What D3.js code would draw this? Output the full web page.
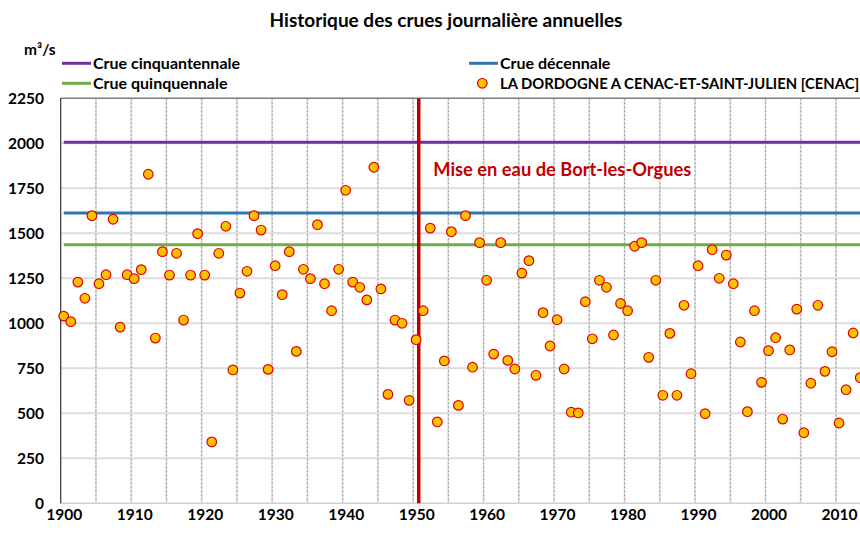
<!DOCTYPE html>
<html>
<head>
<meta charset="utf-8">
<script src="https://cdn.jsdelivr.net/npm/d3@7"></script>
<style>
  body { margin: 0; background: #fff; }
  svg { display: block; font-family: Lato, Calibri, sans-serif; }
</style>
</head>
<body>
<div id="chart"></div>
<script>
// annual daily flood peaks, 1900..2013
const years = d3.range(1900, 2014);
const flows = [
  1040, 1009, 1229, 1139, 1598, 1220, 1270, 1578, 979, 1270,
  1248, 1298, 1828, 918, 1398, 1268, 1389, 1018, 1268, 1498,
  1268, 341, 1389, 1539, 741, 1168, 1289, 1598, 1518, 744,
  1320, 1159, 1398, 844, 1300, 1248, 1548, 1220, 1070, 1300,
  1739, 1229, 1200, 1130, 1867, 1191, 605, 1018, 1000, 572,
  909, 1070, 1529, 452, 791, 1509, 544, 1598, 756, 1448,
  1239, 829, 1448, 794, 746, 1279, 1348, 711, 1059, 874,
  1020, 746, 506, 502, 1120, 914, 1239, 1200, 935, 1110,
  1070, 1428, 1448, 811, 1239, 600, 944, 600, 1100, 720,
  1320, 498, 1409, 1250, 1379, 1220, 896, 509, 1070, 672,
  848, 920, 468, 852, 1079, 392, 667, 1100, 733, 842,
  446, 631, 946, 698
];
const refNames  = ['Crue cinquantennale', 'Crue décennale', 'Crue quinquennale'];
const refValues = [2006, 1613, 1437];
const refColors = ['#7030a0', '#2e75b6', '#70ad47'];
const yTicks = [0, 250, 500, 750, 1000, 1250, 1500, 1750, 2000, 2250];
const xLabelYears = d3.range(1900, 2011, 10);
const xGridYears = d3.range(1905, 2015, 5);
const damYear = 1950.8;
const damLabel = 'Mise en eau de Bort-les-Orgues';
const seriesName = 'LA DORDOGNE A CENAC-ET-SAINT-JULIEN [CENAC]';

const W = 860, H = 533;
const off = 0.43;   // points sit a little after the year line
const x = d3.scaleLinear().domain([1900, 2014]).range([60.7, 864.2]);
const y = d3.scaleLinear().domain([0, 2250]).range([503.3, 98.3]);

const svg = d3.select('#chart').append('svg')
  .attr('width', W).attr('height', H);

// title
svg.append('text').attr('x', 446).attr('y', 27).attr('text-anchor', 'middle')
  .attr('font-size', 19).attr('font-weight', 700).attr('fill', '#000')
  .text('Historique des crues journalière annuelles');

svg.append('text').attr('x', 24).attr('y', 55).attr('font-size', 15.5)
  .attr('font-weight', 700).text('m³/s');

// legend
const leg = [
  { x: 62, y: 63.3, name: refNames[0], color: refColors[0] },
  { x: 62, y: 83.3, name: refNames[2], color: refColors[2] },
  { x: 469, y: 63.3, name: refNames[1], color: refColors[1] }
];
leg.forEach(l => {
  svg.append('line').attr('x1', l.x).attr('x2', l.x + 29).attr('y1', l.y).attr('y2', l.y)
    .attr('stroke', l.color).attr('stroke-width', 3);
  svg.append('text').attr('x', l.x + 31).attr('y', l.y + 5.5).attr('font-size', 16)
    .attr('font-weight', 700).text(l.name);
});
svg.append('circle').attr('cx', 482.3).attr('cy', 83.3).attr('r', 4.8)
  .attr('fill', '#ffc000').attr('stroke', '#e00000').attr('stroke-width', 1.2);
svg.append('text').attr('x', 500).attr('y', 88.8).attr('font-size', 14.8)
  .attr('font-weight', 700).text(seriesName);

// horizontal grid
svg.append('g').selectAll('line').data(yTicks.slice(1, -1)).join('line')
  .attr('x1', x(1900)).attr('x2', W).attr('y1', d => y(d)).attr('y2', d => y(d))
  .attr('stroke', '#dcdcdc').attr('stroke-width', 2);

// vertical grid (dashed)
const vg = svg.append('g');
vg.selectAll('line.halo').data(xGridYears).join('line').attr('class', 'halo')
  .attr('x1', d => x(d)).attr('x2', d => x(d)).attr('y1', y(2250)).attr('y2', y(0))
  .attr('stroke', '#e4e4e4').attr('stroke-width', 2);
vg.selectAll('line.dash').data(xGridYears).join('line').attr('class', 'dash')
  .attr('x1', d => x(d)).attr('x2', d => x(d)).attr('y1', y(2250)).attr('y2', y(0))
  .attr('stroke', '#9a9a9a').attr('stroke-width', 1).attr('stroke-dasharray', '2,2');

// plot frame
svg.append('line').attr('x1', x(1900)).attr('x2', W).attr('y1', y(2250)).attr('y2', y(2250))
  .attr('stroke', '#7f7f7f').attr('stroke-width', 1.5);
svg.append('line').attr('x1', x(1900)).attr('x2', W).attr('y1', y(0)).attr('y2', y(0))
  .attr('stroke', '#d0d0d0').attr('stroke-width', 1.5);
svg.append('line').attr('x1', x(1900)).attr('x2', x(1900)).attr('y1', y(2250)).attr('y2', y(0))
  .attr('stroke', '#333').attr('stroke-width', 1.2);

// reference flood lines
svg.append('g').selectAll('line').data(refValues).join('line')
  .attr('x1', x(1900 + off)).attr('x2', W)
  .attr('y1', d => y(d)).attr('y2', d => y(d))
  .attr('stroke', (d, i) => refColors[i]).attr('stroke-width', 3);

// dam commissioning
svg.append('line').attr('x1', x(damYear)).attr('x2', x(damYear))
  .attr('y1', y(2250)).attr('y2', y(0))
  .attr('stroke', '#c00000').attr('stroke-width', 3.5);
svg.append('text').attr('x', 433.3).attr('y', 175.5).attr('font-size', 18.3)
  .attr('font-weight', 700).attr('fill', '#c00000').text(damLabel);

// points
svg.append('g').selectAll('circle').data(years).join('circle')
  .attr('cx', d => x(d + off)).attr('cy', (d, i) => y(flows[i])).attr('r', 4.8)
  .attr('fill', '#ffc000').attr('stroke', '#e00000').attr('stroke-width', 1.2);

// axes
const yAxis = svg.append('g').attr('transform', 'translate(44,0)')
  .call(d3.axisLeft(y).tickValues(yTicks).tickFormat(d3.format('d')).tickSize(0).tickPadding(0));
yAxis.select('.domain').remove();
yAxis.selectAll('text').attr('font-size', 15.5).attr('font-weight', 700)
  .attr('fill', '#000').attr('font-family', 'Lato, sans-serif').attr('dy', '0.35em');

const xAxis = svg.append('g').attr('transform', `translate(0,${y(0)})`)
  .call(d3.axisBottom(d3.scaleLinear().domain([1900 - off, 2014 - off]).range(x.range()))
    .tickValues(xLabelYears).tickFormat(d3.format('d')).tickSize(0).tickPadding(17));
xAxis.select('.domain').remove();
xAxis.selectAll('text').attr('font-size', 15.5).attr('font-weight', 700)
  .attr('fill', '#000').attr('font-family', 'Lato, sans-serif').attr('dy', '0');
</script>
</body>
</html>
